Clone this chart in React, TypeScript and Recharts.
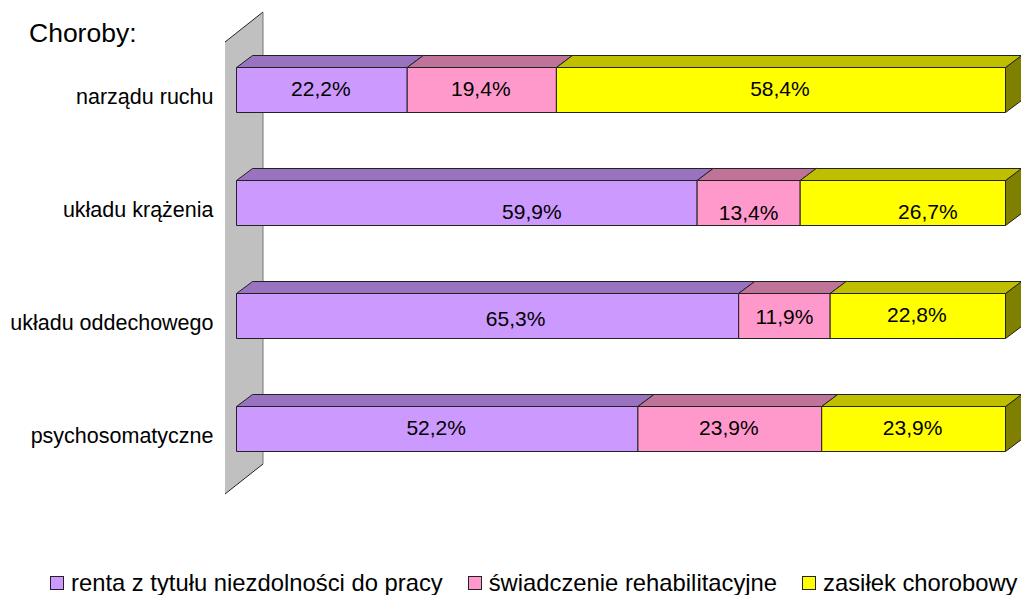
import { BarChart, Bar, XAxis, YAxis, Legend, LabelList, Customized, usePlotArea } from "recharts";

const categories = ["narządu ruchu", "układu krążenia", "układu oddechowego", "psychosomatyczne"];
const renta = [22.2, 59.9, 65.3, 52.2];
const swiadczenie = [19.4, 13.4, 11.9, 23.9];
const zasilek = [58.4, 26.7, 22.8, 23.9];
const seriesNames = ["renta z tytułu niezdolności do pracy", "świadczenie rehabilitacyjne", "zasiłek chorobowy"];
const title = "Choroby:";

const data = categories.map((name, i) => ({
    name,
    renta: renta[i],
    swiadczenie: swiadczenie[i],
    zasilek: zasilek[i],
}));

const FONT = "'Liberation Sans', Arial, sans-serif";
const DX = 16;
const DY = 12;

// labels were moved by hand in the original chart
const rentaNudge = [[-1, -2], [65, 8.5], [28, 2], [-1, -1.5]];
const swiadczenieNudge = [[-1, -2], [0, 9.5], [0, 0], [-1, -1.5]];
const zasilekNudge = [[-1, -2], [25, 8.5], [-1, -1.5], [-1, -1.5]];

const Block = (props: any) => {
    const { x, y, width, height, front, top, side } = props;
    const x2 = x + width;
    const y2 = y + height;
    return (
        <g stroke="#222" strokeWidth={1} strokeLinejoin="round">
            <polygon fill={side} points={`${x2},${y} ${x2 + DX},${y - DY} ${x2 + DX},${y2 - DY} ${x2},${y2}`} />
            <polygon fill={top} points={`${x},${y} ${x + DX},${y - DY} ${x2 + DX},${y - DY} ${x2},${y}`} />
            <rect x={x} y={y} width={width} height={height} fill={front} />
        </g>
    );
};

const Wall = () => {
    const plot = usePlotArea();
    if (!plot) return null;
    const left = plot.x - 11.5;
    const right = plot.x + 26.5;
    const top = plot.y + 8.5;
    const bottom = plot.y + plot.height + 8.5;
    return (
        <g>
            <polygon
                fill="#c0c0c0"
                points={`${left},${top} ${right},${top - 30} ${right},${bottom - 30} ${left},${bottom}`}
            />
            <line x1={left} y1={top} x2={right} y2={top - 30} stroke="#222" />
            <line x1={left} y1={bottom} x2={right} y2={bottom - 30} stroke="#222" />
            <line x1={right} y1={top - 30} x2={right} y2={bottom - 30} stroke="#777" />
            <text x={29} y={42} fontSize={26.5} fontFamily={FONT} fill="#000">{title}</text>
        </g>
    );
};

const makeLabel = (nudge: number[][]) => (props: any) => {
    const { x, y, width, height, value, index } = props;
    return (
        <text
            x={x + width / 2 + nudge[index][0]}
            y={y + height / 2 + nudge[index][1]}
            textAnchor="middle"
            dominantBaseline="central"
            fontSize={21}
            fontFamily={FONT}
            fill="#000"
        >
            {String(value).replace(".", ",")}%
        </text>
    );
};

const LegendBox = ({ payload }: any) => (
    <div style={{ display: "flex", alignItems: "center", gap: 25, fontFamily: FONT, fontSize: 23.8, color: "#000", whiteSpace: "nowrap", lineHeight: "24px" }}>
        {(payload || []).map((p: any) => (
            <span key={p.value} style={{ display: "flex", alignItems: "center", gap: 7 }}>
                <span style={{ width: 12, height: 12, background: p.color, border: "1px solid #222", display: "inline-block" }} />
                {p.value}
            </span>
        ))}
    </div>
);

export default function App() {
    return (
        <div style={{ position: "absolute", left: 0, top: 0 }}>
            <BarChart
                layout="vertical"
                width={1021}
                height={595}
                data={data}
                margin={{ top: 33.5, right: 15.5, bottom: 85.5, left: 0 }}
            >
                <XAxis type="number" domain={[0, 100]} hide />
                <YAxis
                    type="category"
                    dataKey="name"
                    width={236.5}
                    axisLine={false}
                    tickLine={false}
                    tickSize={0}
                    tickMargin={23}
                    dy={6}
                    interval={0}
                    tick={{ fill: "#000", fontSize: 21.5, fontFamily: FONT }}
                />
                <Customized component={Wall} />
                <Legend
                    height={24}
                    itemSorter={null}
                    content={<LegendBox />}
                    wrapperStyle={{ left: 50, top: 571, bottom: "auto", width: "auto" }}
                />
                <Bar
                    dataKey="renta"
                    name={seriesNames[0]}
                    stackId="a"
                    barSize={45}
                    fill="#cc99ff"
                    isAnimationActive={false}
                    shape={(p: any) => <Block {...p} front="#cc99ff" top="#9973bf" side="#664c80" />}
                >
                    <LabelList dataKey="renta" content={makeLabel(rentaNudge)} />
                </Bar>
                <Bar
                    dataKey="swiadczenie"
                    name={seriesNames[1]}
                    stackId="a"
                    barSize={45}
                    fill="#ff99cc"
                    isAnimationActive={false}
                    shape={(p: any) => <Block {...p} front="#ff99cc" top="#bf7399" side="#804c66" />}
                >
                    <LabelList dataKey="swiadczenie" content={makeLabel(swiadczenieNudge)} />
                </Bar>
                <Bar
                    dataKey="zasilek"
                    name={seriesNames[2]}
                    stackId="a"
                    barSize={45}
                    fill="#ffff00"
                    isAnimationActive={false}
                    shape={(p: any) => <Block {...p} front="#ffff00" top="#bfbf00" side="#808000" />}
                >
                    <LabelList dataKey="zasilek" content={makeLabel(zasilekNudge)} />
                </Bar>
            </BarChart>
        </div>
    );
}
